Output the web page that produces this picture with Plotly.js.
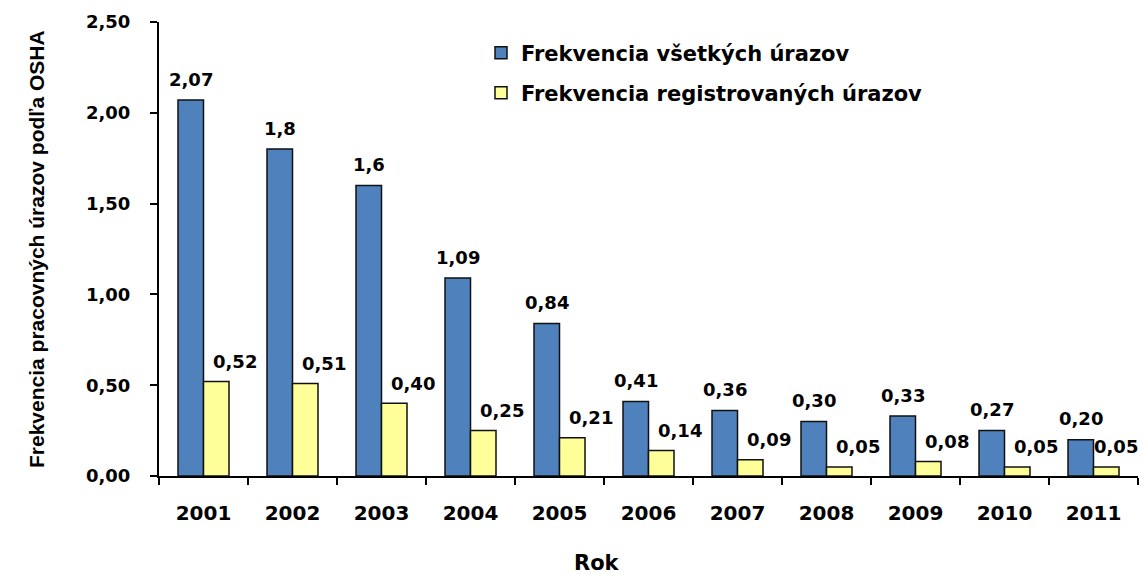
<!DOCTYPE html>
<html>
<head>
<meta charset="utf-8">
<script src="https://cdn.plot.ly/plotly-3.0.1.min.js"></script>
<style>html,body{margin:0;padding:0;background:#fff;}</style>
</head>
<body>
<div id="chart" style="width:1142px;height:575px;"></div>
<script>
const years = ['2001','2002','2003','2004','2005','2006','2007','2008','2009','2010','2011'];
const allInjuries = [2.07, 1.80, 1.60, 1.09, 0.84, 0.41, 0.36, 0.30, 0.33, 0.25, 0.20];
const allLabels = ['2,07','1,8','1,6','1,09','0,84','0,41','0,36','0,30','0,33','0,27','0,20'];
const regInjuries = [0.52, 0.51, 0.40, 0.25, 0.21, 0.14, 0.09, 0.05, 0.08, 0.05, 0.05];
const regLabels = ['0,52','0,51','0,40','0,25','0,21','0,14','0,09','0,05','0,08','0,05','0,05'];
const seriesNames = ['Frekvencia všetkých úrazov', 'Frekvencia registrovaných úrazov'];
const yTitle = 'Frekvencia pracovných úrazov podľa OSHA';
const xTitle = 'Rok';

const F = 'DejaVu Sans, Arial, sans-serif';
const traces = [
  {type:'bar', x: years, y: allInjuries, name: seriesNames[0], legend:'legend',
   marker:{color:'#4F81BD', line:{color:'#111', width:1.5}}, hoverinfo:'none'},
  {type:'bar', x: years, y: regInjuries, name: seriesNames[1], legend:'legend2',
   marker:{color:'#FFFF99', line:{color:'#111', width:1.5}}, hoverinfo:'none'}
];

const ann = [];
years.forEach((yr, i) => {
  const last = i === years.length - 1;
  ann.push({x: i, y: allInjuries[i], xref:'x', yref:'y', text: allLabels[i], showarrow:false,
    xshift:-12.5, yshift:21, yanchor:'middle', xanchor:'center',
    font:{family:F, size:18, weight:'bold', color:'#000'}});
  ann.push({x: i, y: regInjuries[i], xref:'x', yref:'y', text: regLabels[i], showarrow:false,
    xshift: last ? 46 : 31, yshift:20, yanchor:'middle', xanchor: last ? 'right' : 'center',
    font:{family:F, size:18, weight:'bold', color:'#000'}});
});
ann.push({xref:'paper', yref:'paper', x:(36-159)/979, y:0.5, text: yTitle, textangle:-90,
  showarrow:false, xanchor:'center', yanchor:'middle',
  font:{family:'Liberation Sans, Arial, sans-serif', size:21, weight:'bold', color:'#000'}});
ann.push({xref:'paper', yref:'paper', x:(596.5-159)/979, y:(476-563)/454, text: xTitle,
  showarrow:false, xanchor:'center', yanchor:'middle',
  font:{family:F, size:21, weight:'bold', color:'#000'}});

const layout = {
  width:1142, height:575,
  margin:{l:159, r:4, t:22, b:99, pad:0},
  paper_bgcolor:'#fff', plot_bgcolor:'#fff',
  separators:',.',
  barmode:'group', bargap:0.427, bargroupgap:0,
  xaxis:{type:'category', range:[-0.5, years.length-0.5], autorange:false, tickson:'boundaries',
    ticks:'outside', ticklen:7, tickwidth:2, tickcolor:'#000',
    showline:true, linewidth:2, linecolor:'#000', showgrid:false, zeroline:false,
    ticklabelstandoff:18, tickfont:{family:F, size:20, weight:'bold', color:'#000'}},
  yaxis:{range:[0,2.5], autorange:false, dtick:0.5, tick0:0, tickformat:'.2f', ticks:'outside', ticklen:7, tickwidth:2, tickcolor:'#000',
    showline:true, linewidth:2, linecolor:'#000', showgrid:false, zeroline:false,
    ticklabelstandoff:16, tickfont:{family:F, size:18, weight:'bold', color:'#000'}},
  legend:{x:(481-159)/979, y:(476-53)/454, xanchor:'left', yanchor:'middle', bgcolor:'rgba(0,0,0,0)',
    font:{family:F, size:21, weight:'bold', color:'#000'}},
  legend2:{x:(481-159)/979, y:(476-93)/454, xanchor:'left', yanchor:'middle', bgcolor:'rgba(0,0,0,0)',
    font:{family:F, size:21, weight:'bold', color:'#000'}},
  showlegend:true,
  annotations: ann
};

Plotly.newPlot('chart', traces, layout, {displayModeBar:false, staticPlot:true});
</script>
</body>
</html>
